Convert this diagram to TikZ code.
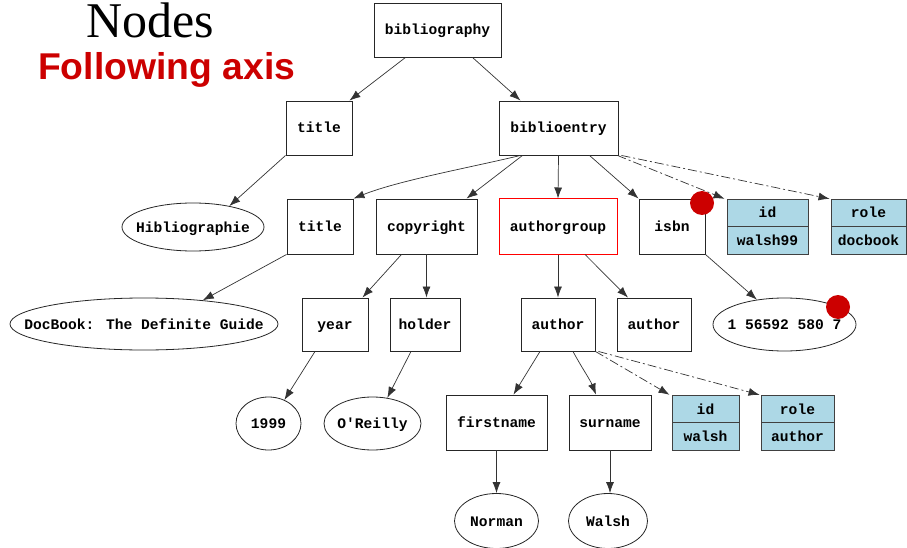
\documentclass[tikz,border=0pt]{standalone}
\usepackage{fontspec}
\setmainfont{Liberation Serif}
\newfontfamily\monof{Liberation Mono}
\newfontfamily\sansf{Liberation Sans}
\usetikzlibrary{shapes.geometric,arrows.meta}
\definecolor{attrblue}{HTML}{ADD8E6}
\definecolor{dotred}{HTML}{CC0000}
\newcommand{\zw}[1]{\makebox[0pt]{#1}}
\begin{document}
\begin{tikzpicture}[x=1pt,y=-1pt,
 every node/.style={font=\monof\bfseries\fontsize{14.6}{16}\selectfont, inner sep=0pt, text height=11pt, text depth=1pt},
 box/.style={draw=black!85, line width=0.9pt, rectangle, minimum height=54pt},
 oval/.style={draw=black!85, line width=0.8pt, ellipse, minimum height=53pt},
 attr/.style={draw=black!75, line width=0.9pt, fill=attrblue, rectangle, minimum height=27.5pt},
 edge/.style={draw=black!80, line width=0.7pt, -{Latex[length=11pt,width=8pt]}},
 attredge/.style={edge, dash pattern=on 9pt off 3pt on 2pt off 3pt},
 reddot/.style={circle, fill=dotred, minimum size=24pt}]
\useasboundingbox (0,0) rectangle (907,548);

% titles
\node[font=\rmfamily\fontsize{50}{54}\selectfont, anchor=base west, text height=, text depth=] (ttl) at (86,38) {Nodes};
\node[font=\sansf\bfseries\fontsize{37.3}{40}\selectfont, text=dotred, anchor=base west, text height=, text depth=] (sub) at (38,80) {Following axis};

% level 0-1
\node[box, minimum width=127pt] (bib) at (437.5,30) {bibliography};
\node[box, minimum width=66pt] (title1) at (319,128) {title};
\node[box, minimum width=119pt] (be) at (558.5,128) {biblioentry};

% level 2
\node[oval, minimum width=142pt, minimum height=48pt] (hib) at (193,227) {\zw{Hibliographie}};
\node[box, minimum width=66pt, minimum height=55pt] (title2) at (320,226.5) {title};
\node[box, minimum width=101pt, minimum height=55pt] (copy) at (426.5,226.5) {copyright};
\node[box, draw=red, line width=1pt, minimum width=118pt, minimum height=55pt] (ag) at (558,226.5) {authorgroup};
\node[box, minimum width=66pt, minimum height=55pt] (isbn) at (672,226.5) {isbn};
\node[attr, minimum width=81pt] (id1) at (767.5,213) {id};
\node[attr, minimum width=81pt] (id1v) at (767.5,240.5) {walsh99};
\node[attr, minimum width=75pt] (role1) at (868.5,213) {role};
\node[attr, minimum width=75pt] (role1v) at (868.5,240.5) {docbook};

% level 3
\node[oval, minimum width=268pt, minimum height=52pt] (dbk) at (144,324) {\zw{DocBook: The Definite Guide}};
\node[box, minimum width=66pt, minimum height=53pt] (year) at (335,324.5) {year};
\node[box, minimum width=70pt, minimum height=53pt] (holder) at (425,324.5) {holder};
\node[box, minimum width=74pt, minimum height=53pt] (au1) at (558,324.5) {author};
\node[box, minimum width=74pt, minimum height=53pt] (au2) at (654,324.5) {author};
\node[oval, minimum width=143pt] (isbnv) at (784.5,324.5) {\zw{1 56592 580 7}};

% level 4
\node[oval, minimum width=65pt] (y1999) at (268.5,423.5) {\zw{1999}};
\node[oval, minimum width=97pt] (orl) at (372.5,423.5) {\zw{O'Reilly}};
\node[box, minimum width=101pt, minimum height=55pt] (fn) at (496.5,422.5) {firstname};
\node[box, minimum width=82pt, minimum height=55pt] (sn) at (610,422.5) {surname};
\node[attr, minimum width=67pt] (id2) at (705.5,409) {id};
\node[attr, minimum width=67pt] (id2v) at (705.5,436.5) {walsh};
\node[attr, minimum width=73pt] (role2) at (797.5,409) {role};
\node[attr, minimum width=73pt] (role2v) at (797.5,436.5) {author};

% level 5
\node[oval, minimum width=84pt, minimum height=55pt] (norman) at (496.5,521) {\zw{Norman}};
\node[oval, minimum width=79pt, minimum height=55pt] (walsh) at (608,521) {\zw{Walsh}};

% edges
\draw[edge] ([xshift=-32pt]bib.south) -- ([xshift=-3pt]title1.north east);
\draw[edge] ([xshift=35pt]bib.south) -- ([xshift=-38pt]be.north);
\draw[edge] (title1.south west) -- (hib.30);
\draw[edge] ([xshift=-38pt]be.south) .. controls +(-50,12) and +(45,-18) .. (title2.north east);
\draw[edge] ([xshift=-36pt]be.south) -- ([xshift=40pt]copy.north);
\draw[edge] (be.south) -- (ag.north);
\draw[edge] ([xshift=31pt]be.south) -- (isbn.north west);
\draw[attredge] ([xshift=-1pt]be.south east) -- ([xshift=-2pt]id1.north west);
\draw[attredge] ([xshift=3pt]be.south east) -- ([xshift=-1pt]role1.north west);
\draw[edge] (title2.south west) -- (dbk.22);
\draw[edge] ([xshift=-25pt]copy.south) -- ([xshift=-6pt]year.north east);
\draw[edge] (copy.south) -- (copy.south |- holder.north);
\draw[edge] (ag.south) -- (au1.north);
\draw[edge] ([xshift=27pt]ag.south) -- ([xshift=-26pt]au2.north);
\draw[edge] (isbn.south east) -- (isbnv.138);
\draw[edge] ([xshift=-20pt]year.south) -- (y1999.56);
\draw[edge] ([xshift=-14pt]holder.south) -- (orl.60);
\draw[edge] ([xshift=-18pt]au1.south) -- ([xshift=17pt]fn.north);
\draw[edge] ([xshift=15pt]au1.south) .. controls +(8,15) and +(-6,-15) .. ([xshift=-14pt]sn.north);
\draw[attredge] (au1.south east) -- ([xshift=-2pt]id2.north west);
\draw[attredge] ([xshift=3pt]au1.south east) -- ([xshift=-1pt]role2.north west);
\draw[edge] (fn.south) -- (norman.north);
\draw[edge] (sn.south) -- (sn.south |- walsh.north);

% red dots
\node[reddot] (dot1) at (702,203) {};
\node[reddot] (dot2) at (838,307) {};
\end{tikzpicture}
\end{document}
